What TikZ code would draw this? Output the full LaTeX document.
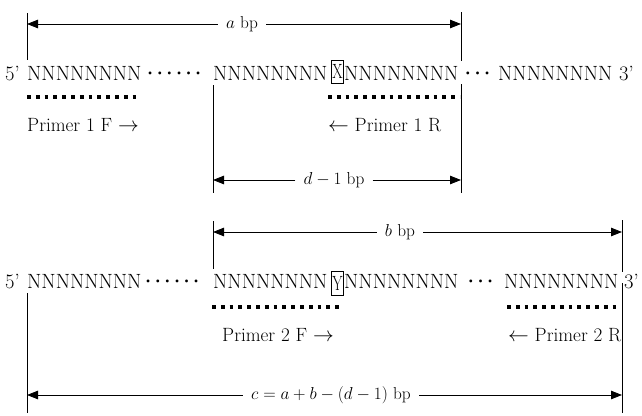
\documentclass[tikz,border=0pt]{standalone}
\usetikzlibrary{arrows.meta}
\newcommand\seqfont{\fontsize{20.6}{24}\selectfont}
\newcommand\lblfont{\fontsize{17.3}{20}\selectfont}
\newcommand\prfont{\fontsize{19.2}{22}\selectfont}
\newcommand\onedot{\makebox[9.6pt][c]{\textbf{·}}}
\newcommand\sixdots{\onedot\onedot\onedot\onedot\onedot\onedot}
\newcommand\threedots{\onedot\onedot\onedot}
\begin{document}
\begin{tikzpicture}[x=1pt,y=-1pt,
  seq/.style={font=\seqfont, inner sep=0pt, anchor=base west},
  lbl/.style={font=\prfont, inner sep=0pt, anchor=base west},
  dimlbl/.style={font=\lblfont, inner xsep=8pt, inner ysep=0pt, anchor=center},
  dimarrow/.style={line width=0.8pt, -{Triangle[length=11pt,width=8.5pt]}},
  ext/.style={line width=0.8pt},
  primer/.style={line width=3.6pt, dash pattern=on 3.8pt off 5pt},
  boxed/.style={draw, line width=0.7pt, inner sep=0pt, minimum width=12pt, minimum height=23pt, font=\seqfont}]
\useasboundingbox (0,0) rectangle (642,415);

% ---------- top sequence ----------
\node[seq] (p5a) at (5,80.5) {5’};
\node[seq] (n1a) at (27,80.5) {NNNNNNNN};
\node[seq] (d1a) at (145.2,80.5) {\sixdots};
\node[seq] (n2a) at (213,80.5) {NNNNNNNN};
\node[boxed] (xa) at (337.5,71.5) {\scalebox{0.72}[1]{X}};
\node[seq] (n3a) at (344,80.5) {NNNNNNNN};
\node[seq] (d2a) at (463,80.5) {\threedots};
\node[seq] (n4a) at (498,80.5) {NNNNNNNN};
\node[seq] (p3a) at (619,80.5) {3’};

% primers 1
\coordinate (pf1s) at (27,97);  \coordinate (pf1e) at (140,97);
\coordinate (pr1s) at (328,97); \coordinate (pr1e) at (460,97);
\draw[primer] (pf1s) -- (pf1e);
\draw[primer] (pr1s) -- (pr1e);
\node[lbl] (lf1) at (27,131) {Primer 1 F $\rightarrow$};
\node[lbl] (lr1) at (328,131) {$\leftarrow$ Primer 1 R};

% a bp
\coordinate (aLt) at (27,13);  \coordinate (aLb) at (27,60);
\coordinate (aRt) at (461,12); \coordinate (aRb) at (461,61);
\draw[ext] (aLt) -- (aLb);
\draw[ext] (aRt) -- (aRb);
\node[dimlbl] (albl) at (242,24) {$a$ bp};
\coordinate (aL) at (27,24); \coordinate (aR) at (461,24);
\draw[dimarrow] (albl) -- (aL);
\draw[dimarrow] (albl) -- (aR);

% d-1 bp
\coordinate (dLt) at (213,85);  \coordinate (dLb) at (213,193);
\coordinate (dRt) at (461,84);  \coordinate (dRb) at (461,193);
\draw[ext] (dLt) -- (dLb);
\draw[ext] (dRt) -- (dRb);
\node[dimlbl] (dlbl) at (334,180) {$d-1$ bp};
\coordinate (dL) at (213,180); \coordinate (dR) at (461,180);
\draw[dimarrow] (dlbl) -- (dL);
\draw[dimarrow] (dlbl) -- (dR);

% ---------- bottom sequence ----------
\node[seq] (p5b) at (5,288.5) {5’};
\node[seq] (n1b) at (27,288.5) {NNNNNNNN};
\node[seq] (d1b) at (143.2,288.5) {\sixdots};
\node[seq] (n2b) at (213,288.5) {NNNNNNNN};
\node[boxed,minimum height=24pt] (yb) at (337.5,283) {\scalebox{0.72}[1]{Y}};
\node[seq] (n3b) at (344,288.5) {NNNNNNNN};
\node[seq] (d2b) at (466,288.5) {\threedots};
\node[seq] (n4b) at (504,288.5) {NNNNNNNN};
\node[seq] (p3b) at (624,288.5) {3’};

% primers 2
\coordinate (pf2s) at (212,307); \coordinate (pf2e) at (342,307);
\coordinate (pr2s) at (507,307); \coordinate (pr2e) at (620,307);
\draw[primer] (pf2s) -- (pf2e);
\draw[primer] (pr2s) -- (pr2e);
\node[lbl] (lf2) at (222,341) {Primer 2 F $\rightarrow$};
\node[lbl] (lr2) at (508,341) {$\leftarrow$ Primer 2 R};

% b bp
\coordinate (bLt) at (213,221); \coordinate (bLb) at (213,269);
\coordinate (bRt) at (622,220); \coordinate (bRm) at (622,272);
\coordinate (bRn) at (622,283); \coordinate (bRb) at (622,413);
\draw[ext] (bLt) -- (bLb);
\draw[ext] (bRt) -- (bRm);
\draw[ext] (bRn) -- (bRb);
\node[dimlbl] (blbl) at (400,232) {$b$ bp};
\coordinate (bL) at (213,232); \coordinate (bR) at (622,232);
\draw[dimarrow] (blbl) -- (bL);
\draw[dimarrow] (blbl) -- (bR);

% c bp
\coordinate (cLt) at (27,293); \coordinate (cLb) at (27,413);
\draw[ext] (cLt) -- (cLb);
\node[dimlbl] (clbl) at (331,395) {$c=a+b-(d-1)$ bp};
\coordinate (cL) at (27,395); \coordinate (cR) at (622,395);
\draw[dimarrow] (clbl) -- (cL);
\draw[dimarrow] (clbl) -- (cR);
\end{tikzpicture}
\end{document}
